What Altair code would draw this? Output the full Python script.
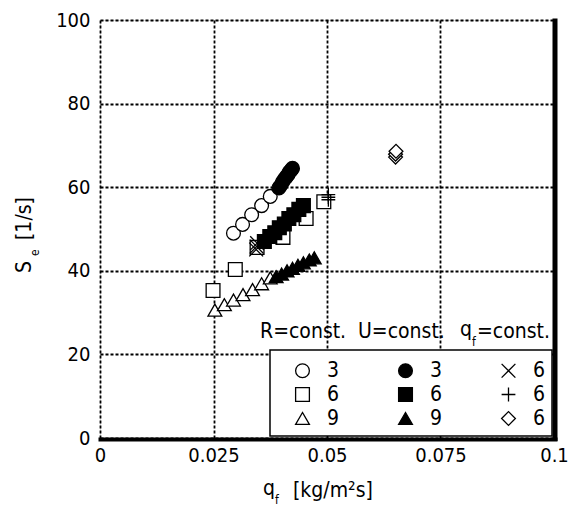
import altair as alt
import pandas as pd

# ---- data ----
r3_q = [0.0294, 0.0314, 0.0334, 0.0356, 0.0375]
r3_s = [49.0, 51.1, 53.4, 55.6, 57.8]
r6_q = [0.0249, 0.0298, 0.0346, 0.0403, 0.0454, 0.0493]
r6_s = [35.3, 40.3, 45.6, 48.0, 52.5, 56.5]
r9_q = [0.0253, 0.0274, 0.0294, 0.0315, 0.0336, 0.0356, 0.0375]
r9_s = [30.6, 31.9, 33.0, 34.3, 35.5, 36.9, 38.3]
u3_q = [0.0394, 0.0398, 0.0402, 0.0406, 0.0410, 0.0414, 0.0417, 0.0421, 0.0424]
u3_s = [59.8, 60.4, 61.2, 61.9, 62.4, 63.0, 63.6, 64.1, 64.5]
u6_q = [0.0362, 0.0374, 0.0385, 0.0395, 0.0406, 0.0416, 0.0427, 0.0438, 0.0448]
u6_s = [47.0, 48.2, 49.1, 50.3, 51.2, 52.5, 53.4, 54.7, 55.6]
u9_q = [0.0388, 0.0400, 0.0412, 0.0424, 0.0436, 0.0448, 0.0461, 0.0472]
u9_s = [38.6, 39.2, 40.0, 40.6, 41.3, 41.9, 42.6, 43.1]
qx_q = [0.0344, 0.0345, 0.0346]
qx_s = [45.1, 45.8, 46.6]
qp_q = [0.0503, 0.0503, 0.0503]
qp_s = [57.0, 57.6, 58.2]
qd_q = [0.0651, 0.0651, 0.0652]
qd_s = [67.2, 67.9, 68.6]

series = [
    ("○3", r3_q, r3_s), ("□6", r6_q, r6_s), ("△9", r9_q, r9_s),
    ("×6", qx_q, qx_s), ("+6", qp_q, qp_s), ("◇6", qd_q, qd_s),
    ("●3", u3_q, u3_s), ("■6", u6_q, u6_s), ("▲9", u9_q, u9_s),
]
rows = []
for name, qs, ss in series:
    for q, s in zip(qs, ss):
        rows.append({"series": name, "qf": q, "Se": s})
df = pd.DataFrame(rows)

# legend fills column by column
legend_order = ["○3", "□6", "△9", "●3", "■6", "▲9", "×6", "+6", "◇6"]
X_PATH = "M-1,-1L1,1M-1,1L1,-1"
PLUS_PATH = "M-1,0L1,0M0,-1L0,1"
shape_range = ["circle", "square", "triangle-up", "circle", "square", "triangle-up",
               X_PATH, PLUS_PATH, "diamond"]
fill_range = ["white", "white", "white", "black", "black", "black",
              "white", "white", "white"]

FONT = "DejaVu Sans Condensed, sans-serif"
W, H = 454, 418

one = pd.DataFrame({"k": [0]})

legend = alt.Legend(title=None, orient="none", legendX=192, legendY=340,
                    direction="vertical", columns=3, columnPadding=55, rowPadding=2,
                    symbolSize=190, symbolStrokeWidth=1.3, labelFontSize=21,
                    labelFont=FONT, labelColor="black", labelOffset=14,
                    labelExpr="substring(datum.label, 1)")

axis_common = dict(title=None, grid=True, ticks=False, domain=False,
                   labelFontSize=20, labelFont=FONT, labelColor="black",
                   gridColor="black", gridDash=[3, 2], gridWidth=1.8,
                   gridOpacity=1, labelFlush=False)

points = alt.Chart(df).mark_point(
    filled=True, strokeWidth=1.3, opacity=1, size=190
).encode(
    x=alt.X("qf:Q", scale=alt.Scale(domain=[0, 0.1], nice=False),
            axis=alt.Axis(values=[0, 0.025, 0.05, 0.075, 0.1], format=".3~f",
                          labelPadding=7, **axis_common)),
    y=alt.Y("Se:Q", scale=alt.Scale(domain=[0, 100], nice=False),
            axis=alt.Axis(values=[0, 20, 40, 60, 80, 100],
                          labelPadding=10, **axis_common)),
    shape=alt.Shape("series:N", scale=alt.Scale(domain=legend_order, range=shape_range),
                    legend=legend),
    fill=alt.Fill("series:N", scale=alt.Scale(domain=legend_order, range=fill_range),
                  legend=legend),
    stroke=alt.Stroke("series:N", scale=alt.Scale(domain=legend_order,
                                                  range=["black"] * 9),
                      legend=legend),
)

box = alt.Chart(one).mark_rect(fill="white", stroke="black", strokeWidth=1.5).encode(
    x=alt.value(170), x2=alt.value(452), y=alt.value(330), y2=alt.value(416))

right_rule = alt.Chart(one).mark_rule(color="black", strokeWidth=5).encode(
    x=alt.value(455), y=alt.value(-1.5), y2=alt.value(421))
bottom_rule = alt.Chart(one).mark_rule(color="black", strokeWidth=4).encode(
    y=alt.value(419.5), x=alt.value(-1.5), x2=alt.value(457.5))


def txt(s, x, y, size=21, angle=0, align="left"):
    return alt.Chart(one).mark_text(
        font=FONT, fontSize=size, color="black", align=align, baseline="middle",
        angle=angle
    ).encode(x=alt.value(x), y=alt.value(y), text=alt.value(s))


texts = [
    txt("R=const.", 160, 312),
    txt("U=const.", 258, 312),
    txt("q", 360, 310),
    txt("f", 372, 322, size=12),
    txt("=const.", 377, 312),
    # x title
    txt("q", 163, 469),
    txt("f", 175, 480, size=12),
    txt("[kg/m²s]", 193, 471),
    # y title
    txt("S", -75, 253, angle=270),
    txt("e", -65, 236, size=12, angle=270),
    txt("[1/s]", -75, 220, angle=270),
]

chart = alt.layer(box, points, right_rule, bottom_rule, *texts).properties(
    width=W, height=H,
    padding={"left": 92, "top": 12, "right": 15, "bottom": 70},
    autosize=alt.AutoSizeParams(type="none"),
).configure_view(stroke="black", strokeWidth=3).configure(background="white")

chart.save("out.html", embed_options={"renderer": "svg", "actions": False})
